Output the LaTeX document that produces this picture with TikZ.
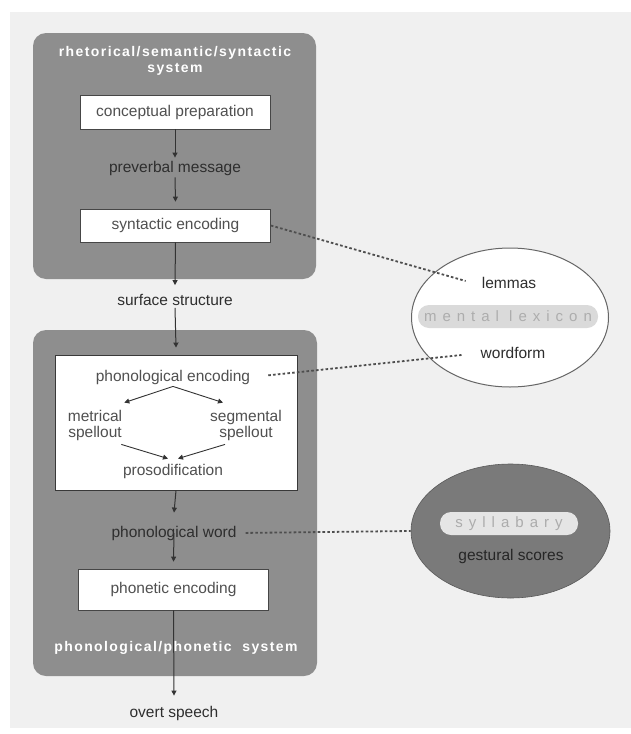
\documentclass[tikz,border=0pt]{standalone}
\usepackage{fontspec}
\setmainfont{Liberation Sans}
\newfontfamily\titlefont[LetterSpace=10]{Liberation Sans}
\newfontfamily\widefont[LetterSpace=40]{Liberation Sans}
\usetikzlibrary{arrows.meta,calc,shapes.geometric}
\definecolor{bg}{HTML}{F0F0F0}
\definecolor{sysgray}{HTML}{8E8E8E}
\definecolor{sylgray}{HTML}{7A7A7A}
\definecolor{txt}{HTML}{2E2E2E}
\definecolor{boxtxt}{HTML}{505050}
\definecolor{pillfill}{HTML}{DADADA}
\definecolor{pilltxt}{HTML}{ADADAD}
\definecolor{linecol}{HTML}{333333}
\definecolor{dashcol}{HTML}{4E4E4E}
\tikzset{
  lbl/.style={font=\fontsize{15.5}{18}\selectfont, text=txt, inner sep=2pt},
  inlbl/.style={font=\fontsize{15.5}{16}\selectfont, text=boxtxt, inner sep=2pt, align=center},
  procbox/.style={draw=gray!55!black, fill=white, line width=0.7pt, minimum width=190pt, inner sep=0pt, font=\fontsize{15.5}{18}\selectfont, text=boxtxt},
  systitle/.style={font=\titlefont\bfseries\fontsize{14}{17}\selectfont, text=white, align=center, inner sep=0pt},
  flow/.style={draw=linecol, line width=1pt, -{Triangle[length=5pt,width=5pt]}},
  link/.style={draw=dashcol, line width=1.8pt, dash pattern=on 2.6pt off 2.2pt},
  pill/.style={fill=pillfill, rounded corners=11pt, inner sep=0pt, font=\widefont\fontsize{15}{18}\selectfont, text=pilltxt}
}
\begin{document}
\begin{tikzpicture}[x=1pt,y=-1pt]
\useasboundingbox (0,0) rectangle (631,734);
\fill[white] (0,0) rectangle (631,734);
\fill[bg] (10,12) rectangle (631,728);
% system boxes
\fill[sysgray, rounded corners=13pt] (33,33) rectangle (316,279);
\fill[sysgray, rounded corners=13pt] (33,330) rectangle (317,676);
\node[systitle] (t1) at (175,61) {rhetorical/semantic/syntactic\\[-1pt]system};
\node[systitle] (t2) at (176,648) {phonological/phonetic\ \ system};
% top system
\node[procbox, minimum height=34pt] (cp) at (175,112) {conceptual preparation};
\node[lbl] (pm) at (175,168) {preverbal message};
\node[procbox, minimum height=33pt] (se) at (175.5,225.5) {syntactic encoding};
\node[lbl] (ss) at (175,300) {surface structure};
% bottom system
\node[draw=gray!45!black, fill=white, line width=0.9pt, minimum width=242pt, minimum height=135pt, inner sep=0pt] (pb) at (176,422.5) {};
\node[inlbl] (pe) at (173,377) {phonological encoding};
\node[inlbl] (met) at (95,425) {metrical\\spellout};
\node[inlbl] (seg) at (246,425) {segmental\\spellout};
\node[inlbl] (pro) at (173,471) {prosodification};
\node[lbl] (pw) at (174,533) {phonological word};
\node[procbox, minimum height=41pt] (pn) at (173.5,589.5) {phonetic encoding};
\node[lbl] (os) at (174,713) {overt speech};
% mental lexicon
\node[ellipse, draw=gray!80!black, fill=white, line width=1pt, minimum width=197pt, minimum height=139pt, inner sep=0pt] (ml) at (510,317.5) {};
\node[lbl] (lem) at (509,283) {lemmas};
\node[pill, minimum width=180pt, minimum height=23pt] (mlp) at (508,316.5) {mental lexicon};
\node[lbl] (wf) at (513,353) {wordform};
% syllabary
\node[ellipse, fill=sylgray, draw=gray!70!black, line width=0.6pt, minimum width=199pt, minimum height=134pt, inner sep=0pt] (sy) at (510.5,531) {};
\node[pill, minimum width=138pt, minimum height=23pt, fill=gray!20, text=gray!65] (syp) at (509,523.5) {syllabary};
\node[lbl, text=black!85] (gs) at (511,556) {gestural scores};
% flow arrows
\draw[flow] (cp.south) -- ($(pm.north)+(0,-1)$);
\draw[flow] (pm.south) -- ($(se.north)+(0,-7)$);
\draw[flow] (se.south) -- ($(ss.north)+(0,-7)$);
\draw[flow] (ss.south) -- ($(pb.north)+(0,-7)$);
\draw[flow, line width=0.9pt] (pe.south) -- ($(met.north east)+(0,-5)$);
\draw[flow, line width=0.9pt] (pe.south) -- ($(seg.north)+(-23,-5)$);
\draw[flow, line width=0.9pt] ($(met.south east)+(-3,2)$) -- ($(pro.north)+(-5,-3)$);
\draw[flow, line width=0.9pt] ($(seg.south)+(-21,2)$) -- ($(pro.north)+(5,-3)$);
\draw[flow] (pb.south) -- ($(pw.north)+(0,-11)$);
\draw[flow] (pw.center) -- ($(pn.north)+(0,-7)$);
\draw[flow] (pn.south) -- ($(os.north)+(0,-8)$);
% links to lexicon and syllabary
\draw[link] (se.east) -- ($(lem.west)+(-14,-2)$);
\draw[link, shorten <=16pt] (pe.east) -- ($(wf.west)+(-17,2)$);
\draw[link, shorten <=7pt] (pw.east) -- (sy.west);
\end{tikzpicture}
\end{document}
